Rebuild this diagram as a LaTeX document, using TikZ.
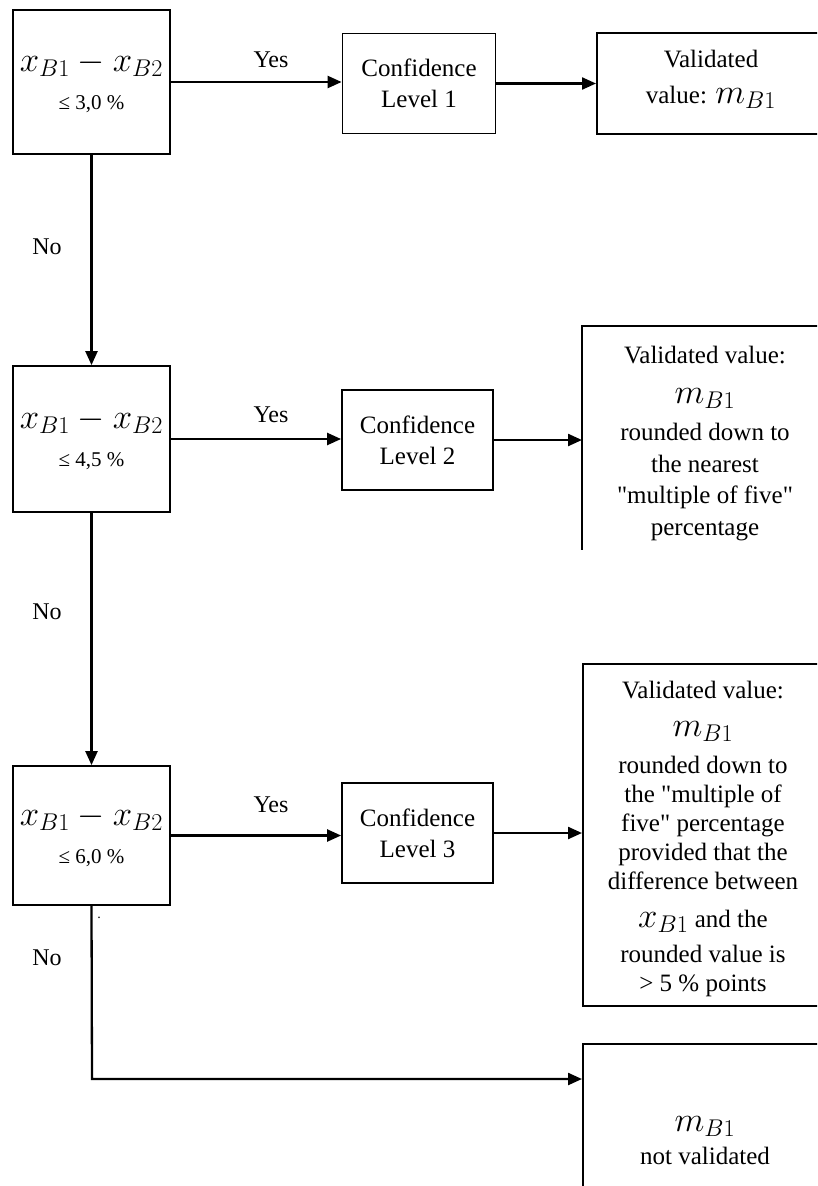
\documentclass[tikz,border=0pt]{standalone}
\usepackage{fontspec}
\usepackage{graphicx}
\setmainfont{Liberation Serif}
\newfontfamily\qfont{Liberation Serif}[Ligatures=TeXOff]
\usetikzlibrary{arrows.meta}
\newcommand\mbig[1]{\scalebox{1.4}{$#1$}}
\newcommand\qq{{\qfont"}}
\begin{document}
\begin{tikzpicture}[x=1pt,y=-1pt,
  box/.style={draw,line width=1.8pt,inner sep=0pt},
  dbox/.style={box,minimum width=157pt,align=center,
     font=\fontsize{23}{28}\selectfont},
  cbox/.style={box,minimum width=153pt,minimum height=100pt,align=center,
     font=\fontsize{25}{31}\selectfont},
  vbox/.style={box,minimum width=246pt,anchor=north west},
  txt/.style={align=center,inner sep=0pt,anchor=north,
     font=\fontsize{25}{29}\selectfont},
  lab/.style={inner sep=0pt,font=\fontsize{24}{28}\selectfont},
  arr/.style={line width=2.3pt,-{Triangle[length=14pt,width=12pt]}}]
\clip (0,0) rectangle (817,1186);
\fill[white] (0,0) rectangle (817,1186);

% decision boxes
\node[dbox,minimum height=144pt] (D1) at (91.5,82)
  {\mbig{x_{B1}-x_{B2}}\\[10pt]{\fontsize{21}{24}\selectfont ≤ 3,0 \%}};
\node[dbox,minimum height=146pt] (D2) at (91.5,439)
  {\mbig{x_{B1}-x_{B2}}\\[10pt]{\fontsize{21}{24}\selectfont ≤ 4,5 \%}};
\node[dbox,minimum height=139pt] (D3) at (91.5,835.5)
  {\mbig{x_{B1}-x_{B2}}\\[10pt]{\fontsize{21}{24}\selectfont ≤ 6,0 \%}};

% confidence boxes
\node[cbox] (C1) at (419,83.5) {Confidence\\Level 1};
\node[cbox,minimum width=151pt] (C2) at (417.5,440) {Confidence\\Level 2};
\node[cbox,minimum width=151pt] (C3) at (417.5,833) {Confidence\\Level 3};

% result boxes
\node[vbox,minimum width=232pt,minimum height=101pt] (V1) at (596,32) {};
\node[vbox,draw=none,minimum height=222pt] (V2) at (582,326) {};
\draw[line width=1.8pt] (V2.south west) -- (V2.north west) -- (V2.north east);
\node[vbox,minimum height=342pt] (V3) at (582,663) {};
\node[vbox,minimum height=160pt] (V4) at (582,1043) {};

\node[txt] (T1) at (711,50) {Validated\\[7pt]value: \mbig{m_{B1}}};
\begin{scope}
\clip (582,326) rectangle (817,543);
\node[txt,font=\fontsize{25}{31.5}\selectfont] (T2) at (705,346) {Validated value:\\[8pt]
  \mbig{m_{B1}}\\[6pt]
  rounded down to\\the nearest\\\qq multiple of five\qq\\percentage};
\end{scope}
\node[txt] (T3) at (703,681) {Validated value:\\[9pt]
  \mbig{m_{B1}}\\[8pt]
  rounded down to\\the \qq multiple of\\five\qq{} percentage\\provided that the\\
  difference between\\[9pt]
  \mbig{x_{B1}} and the\\[6pt]
  rounded value is\\> 5 \% points};
\node[txt] (T4) at (705,1116) {\mbig{m_{B1}}\\[4pt]not validated};

% labels
\node[lab] (Y1) at (271,60) {Yes};
\node[lab] (Y2) at (271,415) {Yes};
\node[lab] (Y3) at (271,805) {Yes};
\node[lab] (N1) at (47,247) {No};
\node[lab] (N2) at (47,612) {No};
\node[lab] (N3) at (47,958) {No};
\node[inner sep=0pt,font=\fontsize{14}{16}\selectfont] (dot) at (99,918) {.};

% connectors
\draw[arr] (D1.east) -- (D1.east -| C1.west);
\draw[arr] (C1.east) -- (C1.east -| V1.west);
\draw[arr] (D2.east) -- (D2.east -| C2.west);
\draw[arr] (C2.east) -- (C2.east -| V2.west);
\draw[arr] (D3.east) -- (D3.east -| C3.west);
\draw[arr] (C3.east) -- (C3.east -| V3.west);
\draw[arr] (D1.south) -- (D2.north);
\draw[arr] (D2.south) -- (D3.north);
\coordinate (bend) at (92,1079);
\draw[arr] (D3.south) -- (bend) -- (bend -| V4.west);
\end{tikzpicture}
\end{document}
